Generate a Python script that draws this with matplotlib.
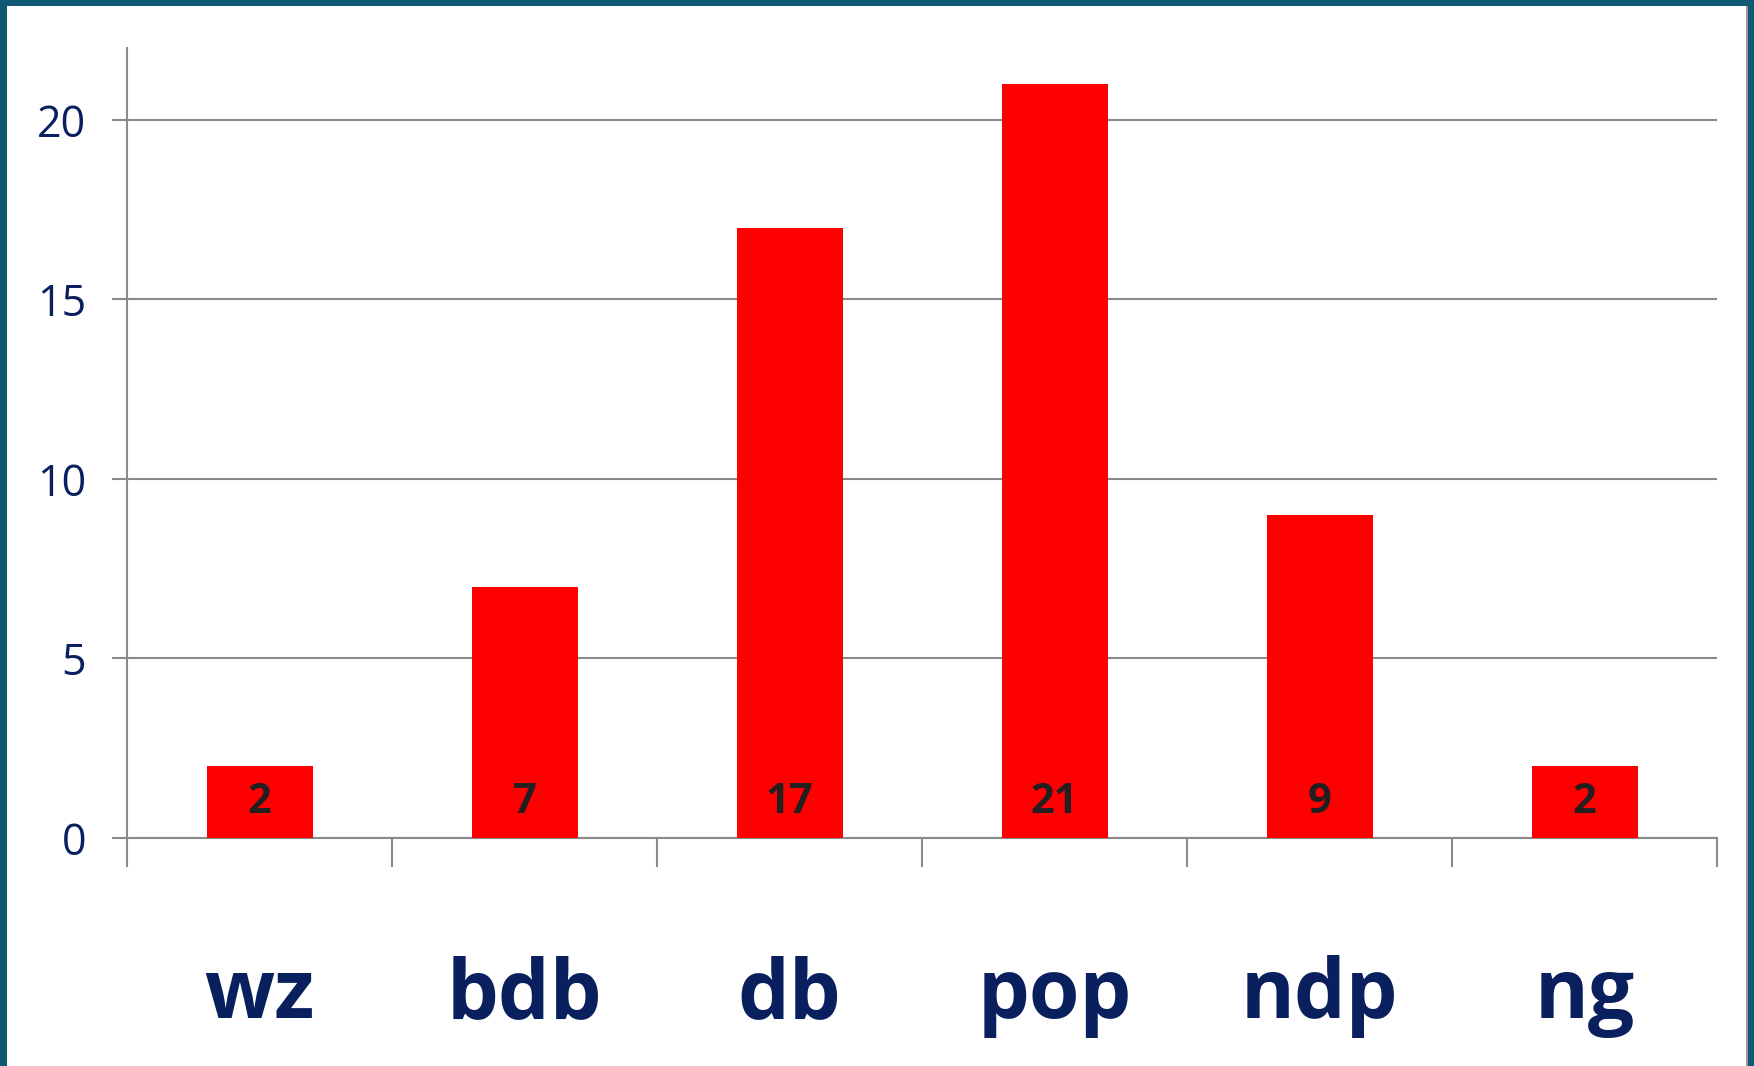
import numpy as np
import matplotlib
matplotlib.use('Agg')
import matplotlib.pyplot as plt
from matplotlib.patches import Rectangle

categories = ['wz', 'bdb', 'db', 'pop', 'ndp', 'ng']
counts = [2, 7, 17, 21, 9, 2]
yticks = [0, 5, 10, 15, 20]

navy = '#0a1f5e'
grey = '#8a8a8a'
teal = '#0f5a72'

fig = plt.figure(figsize=(17.54, 10.66), dpi=100, facecolor=teal)
W, H = 1754, 1066

# white slide panel inside the teal frame
fig.patches.append(Rectangle((7 / W, 0), (1746 - 7) / W, (H - 6) / H,
                             transform=fig.transFigure, facecolor='white',
                             edgecolor='none', zorder=-10))
fig.patches.append(Rectangle((1746 / W, 0), 2 / W, (H - 6) / H,
                             transform=fig.transFigure, facecolor='#9a9a9a',
                             edgecolor='none', zorder=-10))

ax = fig.add_axes([127 / W, (H - 838) / H, (1717 - 127) / W, (838 - 48) / H])
ax.set_facecolor('none')

x = np.arange(len(categories)) + 0.5
ax.bar(x, counts, width=0.4, color='#ff0000', zorder=3)

ax.set_xlim(0, len(categories))
ax.set_ylim(0, 22)
ax.set_yticks(yticks)
ax.set_xticks(np.arange(len(categories) + 1))
ax.set_xticklabels([])

ax.yaxis.grid(True, color=grey, linewidth=1.5, zorder=1)
ax.set_axisbelow(True)
for s in ['top', 'right']:
    ax.spines[s].set_visible(False)
for s in ['left', 'bottom']:
    ax.spines[s].set_color(grey)
    ax.spines[s].set_linewidth(1.5)

ax.tick_params(axis='x', length=21, width=1.5, color=grey, direction='out')
ax.tick_params(axis='y', length=10.8, width=1.5, color=grey, direction='out',
               pad=18.5, labelsize=31, labelcolor=navy)
for lab in ax.get_yticklabels():
    lab.set_family(['Open Sans', 'DejaVu Sans'])

# category names under the axis
for xi, name in zip(x, categories):
    ax.annotate(name, xy=(xi, 0), xytext=(0, -180), textcoords='offset pixels',
                ha='center', va='baseline', fontsize=59, fontweight='bold',
                color=navy, family=['Open Sans', 'DejaVu Sans'])

# value labels near the base of each bar
for xi, v in zip(x, counts):
    ax.annotate(str(v), xy=(xi, 0), xytext=(0, 25), textcoords='offset pixels',
                ha='center', va='baseline', fontsize=30, fontweight='bold',
                color='#231f20', family=['Open Sans', 'DejaVu Sans'], zorder=4)

fig.savefig('out.png', dpi=100, facecolor=fig.get_facecolor())
